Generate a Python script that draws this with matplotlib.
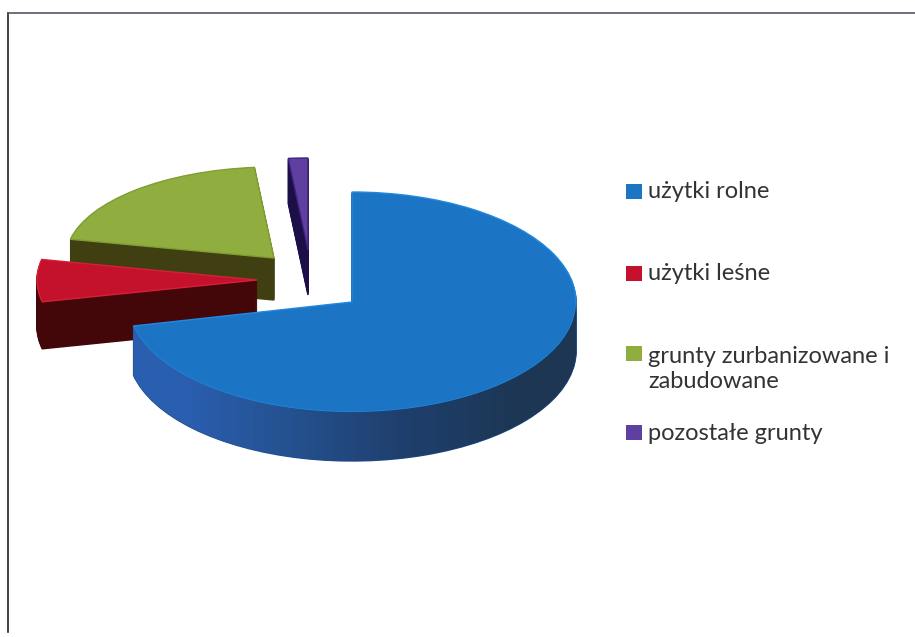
import matplotlib
matplotlib.use("Agg")
import matplotlib.pyplot as plt
import numpy as np
from matplotlib.patches import Polygon, Rectangle
from matplotlib.transforms import Affine2D

# Data (share of area, %)
labels = ["użytki rolne", "użytki leśne", "grunty zurbanizowane i\nzabudowane", "pozostałe grunty"]
values = [71.5, 6.8, 20.2, 1.5]

# Style per slice
top_colors = ["#1b75c4", "#c4122c", "#8fae3f", "#5f3f9f"]
edge_colors = ["#1f8ae0", "#d81f38", "#7f9f30", "#43237f"]
side_colors = ["#234f8c", "#430709", "#3f3f12", "#1c0f48"]
tips = [(352, 302), (257, 280), (274, 258), (308, 250)]  # pixel position of slice tip
radii = [(224, 110), (220, 100), (208, 91), (210, 92)]
depths = [49, 47, 42, 45]
draw_order = [3, 2, 1, 0]

legend_y = [191, 273, 353, 432]
text_y = [192, 273, 369, 433]

W, H = 915, 637
fig = plt.figure(figsize=(W / 100, H / 100), dpi=100)
ax = fig.add_axes([0, 0, 1, 1])

fractions = np.array(values) / sum(values)
starts = np.concatenate([[0], np.cumsum(fractions)[:-1]]) * 360

for rank, i in enumerate(draw_order):
    tx, ty = tips[i]
    rx, ry = radii[i]
    # extruded body, one pie per pixel of depth, then the top face
    for k in range(depths[i], -1, -1):
        color = top_colors[i] if k == 0 else side_colors[i]
        edge = edge_colors[i] if k == 0 else side_colors[i]
        wedges, _ = ax.pie([fractions[i]], normalize=False, startangle=90 - starts[i],
                           counterclock=False, colors=[color],
                           wedgeprops=dict(edgecolor=edge, linewidth=1))
        wedges[0].set_transform(Affine2D().scale(rx, ry).translate(tx, H - ty - k) + ax.transData)
        wedges[0].set_zorder(rank * 100 + (depths[i] - k))

ax.set_xlim(0, W)
ax.set_ylim(0, H)
ax.set_aspect("auto")

# Shaded outer wall of the big slice, dark towards the right
tx, ty = tips[0]
rx, ry = radii[0]
d = depths[0]
theta = np.radians(np.linspace(90, starts[0] + fractions[0] * 360, 200))
xs = tx + rx * np.sin(theta)
ys = H - ty + ry * np.cos(theta)
wall = Polygon(np.vstack([np.column_stack([xs, ys]),
                          np.column_stack([xs, ys - d])[::-1]]),
               closed=True, transform=ax.transData, facecolor="none", edgecolor="none")
ax.add_patch(wall)
gradient = np.array([[0.0, 0.35, 0.7, 1.0]])
cmap = matplotlib.colors.LinearSegmentedColormap.from_list("wall", ["#2a5fb0", "#24518f", "#1f406f", "#1c3654"])
img = ax.imshow(gradient, cmap=cmap, extent=(tx - rx, tx + rx, 0, H), aspect="auto",
                interpolation="bilinear", zorder=350)
img.set_clip_path(wall)
ax.set_xlim(0, W)
ax.set_ylim(0, H)

# Frame, only left and top sides show
ax.plot([8, 8], [H - 632, H - 13], color="#222222", lw=1.2, zorder=500)
ax.plot([8, W], [H - 13, H - 13], color="#555566", lw=1.2, zorder=500)

# Legend
for i, label in enumerate(labels):
    ax.add_patch(Rectangle((626, H - legend_y[i] - 8), 16, 15, facecolor=top_colors[i], edgecolor="none", zorder=500))
    ax.text(648, H - text_y[i], label, fontsize=17, family="Lato", color="#333333",
            va="center", ha="left", linespacing=1.25, zorder=500)

fig.savefig("out.png", dpi=100, facecolor="white")
